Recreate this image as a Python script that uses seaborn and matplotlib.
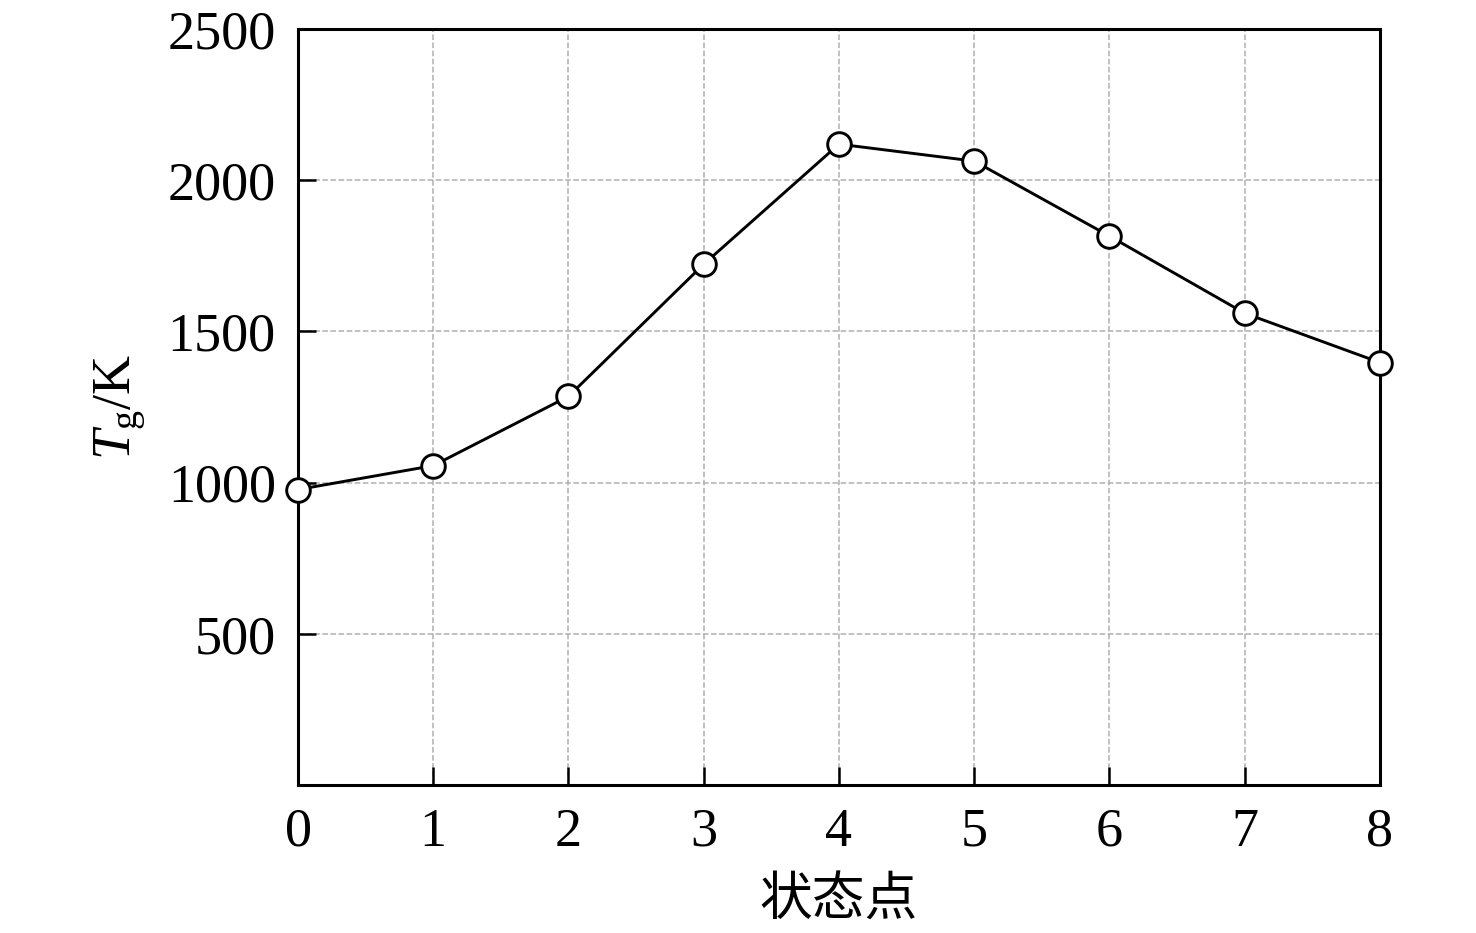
import pandas as pd
import matplotlib
matplotlib.use('Agg')
import matplotlib.pyplot as plt
import seaborn as sns

# dane
state_points = [0, 1, 2, 3, 4, 5, 6, 7, 8]
tg_values = [977, 1056, 1285, 1722, 2119, 2063, 1815, 1560, 1397]
y_ticks = [500, 1000, 1500, 2000, 2500]

df = pd.DataFrame({'state': state_points, 'Tg': tg_values})

sns.set_style('ticks')
plt.rcParams['font.family'] = ['Liberation Serif', 'Noto Sans CJK SC']
plt.rcParams['mathtext.fontset'] = 'custom'
plt.rcParams['mathtext.rm'] = 'Liberation Serif'
plt.rcParams['mathtext.it'] = 'Liberation Serif:italic'
plt.rcParams['text.color'] = 'black'
plt.rcParams['axes.labelcolor'] = 'black'
plt.rcParams['xtick.color'] = 'black'
plt.rcParams['ytick.color'] = 'black'

fig = plt.figure(figsize=(14.76, 9.33), dpi=100)
ax = fig.add_axes([0.2019, 0.1586, 0.733, 0.8104])

sns.lineplot(data=df, x='state', y='Tg', ax=ax, color='black', linewidth=2.1,
             marker='o', markersize=17, markerfacecolor='white',
             markeredgecolor='black', markeredgewidth=2.1, clip_on=False, zorder=5)

ax.set_xlim(0, 8)
ax.set_ylim(0, 2500)
ax.set_xticks(state_points)
ax.set_yticks(y_ticks)
ax.grid(True, linestyle='--', color='#b0b0b0', linewidth=1.1)
ax.set_axisbelow(True)

for sp in ax.spines.values():
    sp.set_linewidth(2.2)
    sp.set_color('black')

ax.tick_params(direction='in', length=13, width=1.8, labelsize=39, pad=16,
               top=False, right=False)

ax.set_xlabel('状态点', fontsize=38, family=['Noto Sans CJK SC'], labelpad=10)
ax.set_ylabel('$T_\\mathrm{g}$/K', fontsize=39, labelpad=14)

fig.savefig('out.png', dpi=100)
